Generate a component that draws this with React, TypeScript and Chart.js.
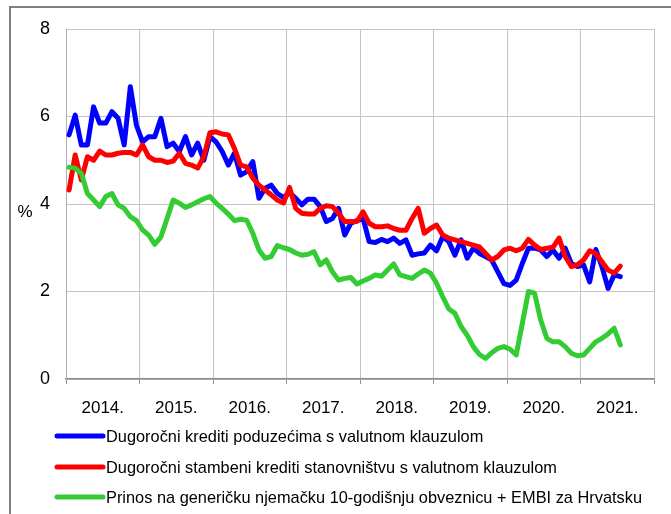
import React, { useEffect, useRef } from 'react';
import { Chart, registerables } from 'chart.js';
Chart.register(...registerables);

const years = ['2014.', '2015.', '2016.', '2017.', '2018.', '2019.', '2020.', '2021.'];

const seriesNames = [
  'Dugoročni krediti poduzećima s valutnom klauzulom',
  'Dugoročni stambeni krediti stanovništvu s valutnom klauzulom',
  'Prinos na generičku njemačku 10-godišnju obveznicu + EMBI za Hrvatsku',
];

// monthly values, Jan 2014 onwards
const blue = [
  5.58, 6.03, 5.35, 5.35, 6.22, 5.85, 5.85, 6.11, 5.96, 5.35,
  6.68, 5.8, 5.42, 5.54, 5.54, 5.96, 5.31, 5.39, 5.2, 5.54,
  5.12, 5.39, 5.0, 5.54, 5.42, 5.2, 4.89, 5.16, 4.66, 4.74,
  4.97, 4.13, 4.36, 4.43, 4.24, 4.15, 4.26, 4.13, 3.98, 4.11,
  4.11, 3.94, 3.6, 3.67, 3.9, 3.29, 3.56, 3.62, 3.67, 3.14,
  3.12, 3.19, 3.14, 3.22, 3.1, 3.18, 2.83, 2.86, 2.88, 3.06,
  2.93, 3.25, 3.14, 2.83, 3.18, 2.76, 2.99, 2.87, 2.8, 2.72,
  2.45, 2.18, 2.14, 2.26, 2.64, 2.99, 2.99, 2.95, 2.8, 2.95,
  2.76, 2.99, 2.64, 2.57, 2.61, 2.22, 2.96, 2.57, 2.07, 2.38,
  2.34,
];

const red = [
  4.32, 5.12, 4.55, 5.08, 5.0, 5.21, 5.12, 5.12, 5.16, 5.18,
  5.18, 5.12, 5.35, 5.08, 5.0, 5.0, 4.95, 4.98, 5.16, 4.93,
  4.89, 4.82, 5.08, 5.63, 5.65, 5.6, 5.58, 5.27, 4.89, 4.85,
  4.59, 4.43, 4.32, 4.21, 4.09, 4.02, 4.38, 3.9, 3.79, 3.77,
  3.77, 3.9, 3.96, 3.94, 3.79, 3.6, 3.6, 3.6, 3.82, 3.56,
  3.48, 3.48, 3.5, 3.44, 3.4, 3.4, 3.67, 3.9, 3.33, 3.44,
  3.52, 3.29, 3.22, 3.18, 3.14, 3.1, 3.06, 3.02, 2.87, 2.72,
  2.8, 2.95, 2.99, 2.93, 2.99, 3.19, 3.06, 2.96, 2.99, 3.01,
  3.22, 2.8, 2.57, 2.61, 2.72, 2.93, 2.87, 2.68, 2.49, 2.42,
  2.58,
];

const green = [
  4.84, 4.82, 4.7, 4.24, 4.09, 3.94, 4.17, 4.24, 3.98, 3.9,
  3.71, 3.62, 3.41, 3.29, 3.08, 3.25, 3.67, 4.09, 4.02, 3.92,
  3.98, 4.05, 4.12, 4.17, 4.02, 3.9, 3.77, 3.62, 3.65, 3.63,
  3.33, 2.95, 2.76, 2.8, 3.05, 3.0, 2.96, 2.88, 2.83, 2.85,
  2.91, 2.61, 2.72, 2.45, 2.26, 2.3, 2.32, 2.17, 2.24, 2.3,
  2.38, 2.35, 2.49, 2.63, 2.38, 2.34, 2.3, 2.4, 2.49, 2.42,
  2.19, 1.88, 1.6, 1.5, 1.2, 1.0, 0.74, 0.56, 0.47, 0.6,
  0.7, 0.74, 0.68, 0.55, 1.27, 2.0, 1.96, 1.35, 0.93, 0.85,
  0.85, 0.74, 0.59, 0.53, 0.55, 0.7, 0.85, 0.93, 1.03, 1.16,
  0.78,
];

const colors = ['#0000ff', '#ff0000', '#33cc33'];
const FONT = '"Liberation Sans", Arial, sans-serif';

export default function App() {
  const ref = useRef<HTMLCanvasElement>(null);

  useEffect(() => {
    if (!ref.current) return;
    const toPts = (arr: number[]) => arr.map((v, i) => ({ x: i + 0.5, y: v }));

    const frame = {
      id: 'frame',
      beforeDraw(chart: any) {
        const ctx = chart.ctx;
        ctx.save();
        ctx.fillStyle = '#ffffff';
        ctx.fillRect(0, 0, chart.width, chart.height);
        ctx.strokeStyle = '#808080';
        ctx.lineWidth = 2;
        ctx.strokeRect(10, 7, 720, 600);
        ctx.restore();
      },
    };

    const extras = {
      id: 'extras',
      afterDraw(chart: any) {
        const ctx = chart.ctx;
        ctx.save();
        ctx.fillStyle = '#000';
        ctx.font = `17px ${FONT}`;
        ctx.textAlign = 'center';
        ctx.textBaseline = 'middle';
        ctx.fillText('%', 25, 212);

        // legend
        ctx.font = `17px ${FONT}`;
        const target = 536;
        const k = target / ctx.measureText(seriesNames[2]).width;
        const rows = [436, 467, 497];
        seriesNames.forEach((name, i) => {
          const y = rows[i];
          ctx.strokeStyle = colors[i];
          ctx.lineWidth = 5;
          ctx.lineCap = 'round';
          ctx.beginPath();
          ctx.moveTo(57, y);
          ctx.lineTo(103, y);
          ctx.stroke();
          ctx.save();
          ctx.translate(106, y);
          ctx.scale(k, 1);
          ctx.textAlign = 'left';
          ctx.textBaseline = 'middle';
          ctx.fillStyle = '#000';
          ctx.fillText(name, 0, 1);
          ctx.restore();
        });
        ctx.restore();
      },
    };

    const gridCol = (c: any) =>
      c.tick && Math.round(c.tick.value) % 12 === 0 ? '#c4c4c4' : 'rgba(0,0,0,0)';
    const tickCol = (c: any) =>
      c.tick && Math.round(c.tick.value) % 12 === 0 ? '#909090' : 'rgba(0,0,0,0)';

    const chart = new Chart(ref.current, {
      type: 'line',
      data: {
        datasets: [
          { label: seriesNames[0], data: toPts(blue), borderColor: colors[0], order: 3 },
          { label: seriesNames[1], data: toPts(red), borderColor: colors[1], order: 2 },
          { label: seriesNames[2], data: toPts(green), borderColor: colors[2], order: 1 },
        ].map((d) => ({
          ...d,
          borderWidth: 5,
          pointRadius: 0,
          tension: 0,
          fill: false,
          borderJoinStyle: 'round' as const,
          borderCapStyle: 'round' as const,
        })),
      },
      options: {
        responsive: false,
        animation: false,
        layout: { padding: { left: 10, top: 29, right: 17, bottom: 100 } },
        plugins: { legend: { display: false }, tooltip: { enabled: false } },
        scales: {
          x: {
            type: 'linear',
            min: 0,
            max: 96,
            afterFit: (s: any) => {
              s.height = 35;
            },
            ticks: {
              stepSize: 6,
              autoSkip: false,
              maxRotation: 0,
              padding: 14,
              color: '#000',
              font: { family: FONT, size: 17 },
              callback: (v: any) => {
                const n = Math.round(Number(v));
                return n % 12 === 6 ? years[(n - 6) / 12] : '';
              },
            },
            grid: { color: gridCol, tickColor: tickCol, tickLength: 5, lineWidth: 1 },
            border: { color: '#8c8c8c', width: 1.5 },
          },
          y: {
            min: 0,
            max: 8,
            afterFit: (s: any) => {
              s.width = 56;
            },
            ticks: {
              stepSize: 2,
              padding: 16,
              color: '#000',
              font: { family: FONT, size: 18 },
            },
            grid: { color: '#c4c4c4', drawTicks: false, lineWidth: 1 },
            border: { color: '#b0b0b0', width: 1 },
          },
        },
      },
      plugins: [frame, extras],
    } as any);

    return () => chart.destroy();
  }, []);

  return (
    <div style={{ position: 'absolute', left: 0, top: 0, width: 671, height: 514 }}>
      <canvas ref={ref} width={671} height={514} style={{ display: 'block' }} />
    </div>
  );
}
